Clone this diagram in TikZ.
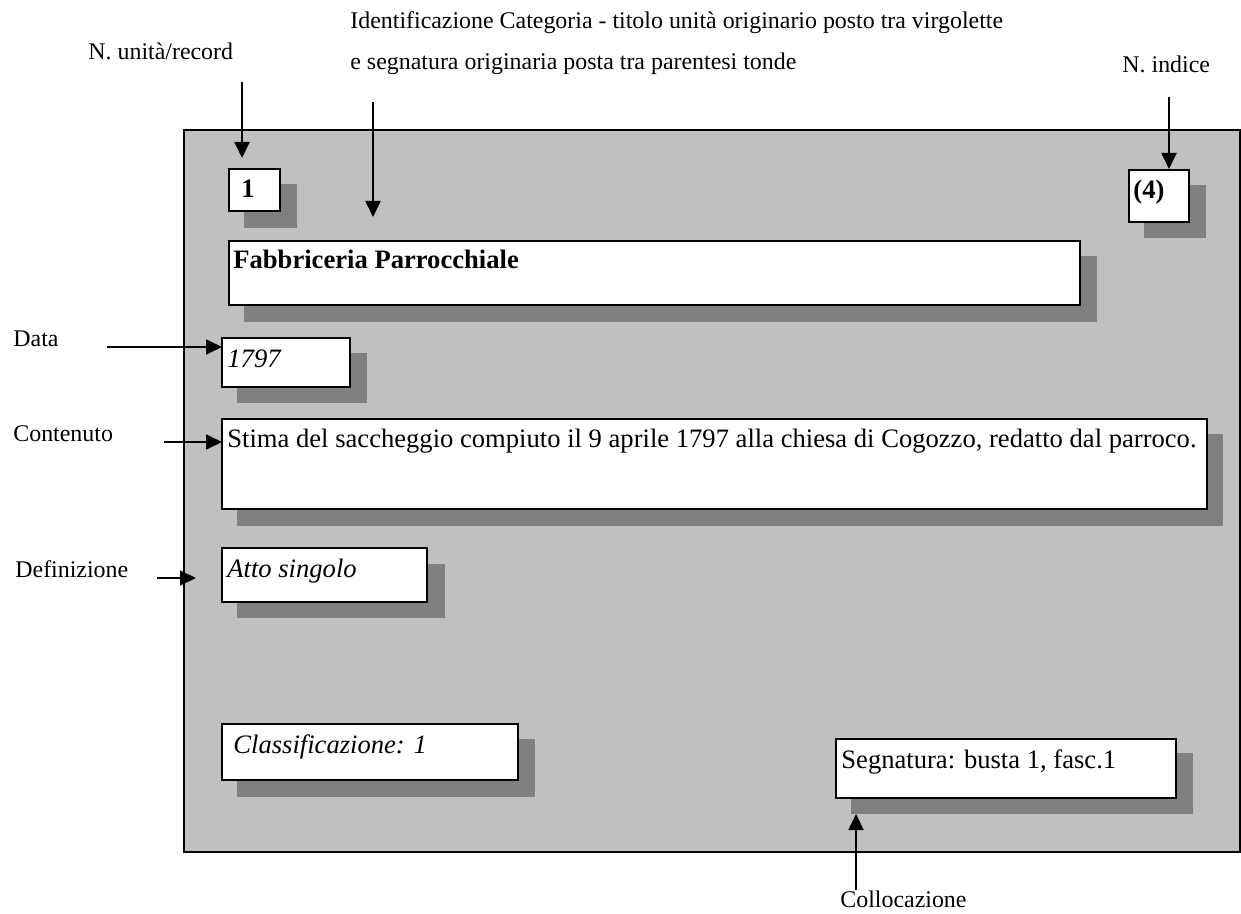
\documentclass[tikz,border=0pt]{standalone}
\usepackage{fontspec}
\setmainfont{Liberation Serif}
\usetikzlibrary{arrows.meta,fit}
\definecolor{panelgray}{HTML}{C0C0C0}
\definecolor{shadowgray}{HTML}{808080}
\begin{document}
\begin{tikzpicture}[x=0.5pt,y=-0.5pt,
  panel/.style={draw=black,line width=1pt,fill=panelgray,inner sep=0pt},
  shadowbox/.style={draw=none,fill=shadowgray,inner sep=0pt},
  whitebox/.style={draw=black,line width=1pt,fill=white,inner sep=0pt},
  lbl/.style={anchor=base west,inner sep=0pt,font=\fontsize{11.95}{14}\selectfont},
  btxt/.style={anchor=base west,inner sep=0pt,font=\fontsize{13.3}{15}\selectfont},
  arr/.style={-{Triangle[length=8pt,width=7.5pt]},line width=0.9pt}
]
\useasboundingbox (0,0) rectangle (1241,914);

% panel
\node[panel,fit={(184,130) (1240,852)}] (panel) {};

% shadows
\node[shadowbox,fit={(244,184) (297,228)}] (s1) {};
\node[shadowbox,fit={(1144,185) (1206,238)}] (s4) {};
\node[shadowbox,fit={(244,256) (1097,322)}] (sfab) {};
\node[shadowbox,fit={(237,353) (367,403)}] (sdate) {};
\node[shadowbox,fit={(237,434) (1223,526)}] (sstima) {};
\node[shadowbox,fit={(237,564) (445,618)}] (satto) {};
\node[shadowbox,fit={(237,739) (535,797)}] (sclass) {};
\node[shadowbox,fit={(851,753) (1193,814)}] (ssegn) {};

% boxes
\node[whitebox,fit={(229,169) (280,211)}] (b1) {};
\node[whitebox,fit={(1129,170) (1189,222)}] (b4) {};
\node[whitebox,fit={(229,241) (1080,305)}] (bfab) {};
\node[whitebox,fit={(222,338) (350,387)}] (bdate) {};
\node[whitebox,fit={(222,419) (1207,509)}] (bstima) {};
\node[whitebox,fit={(222,548) (427,602)}] (batto) {};
\node[whitebox,fit={(222,724) (518,780)}] (bclass) {};
\node[whitebox,fit={(836,739) (1176,798)}] (bsegn) {};

% box texts
\node[btxt] (t1) at (241,198) {\bfseries 1};
\node[btxt] (t4) at (1133,199) {\bfseries (4)};
\node[btxt] (tfab) at (233,269) {\bfseries Fabbriceria Parrocchiale};
\node[btxt] (tdate) at (227,367) {\itshape 1797};
\node[btxt] (tstima) at (227,447) {Stima del saccheggio compiuto il 9 aprile 1797 alla chiesa di Cogozzo, redatto dal parroco.};
\node[btxt] (tatto) at (227,577) {\itshape Atto singolo};
\node[btxt] (tclass) at (233,753) {\itshape Classificazione: 1};
\node[btxt] (tsegn) at (841,768) {Segnatura: busta 1, fasc.1};

% labels
\node[lbl] (lunit) at (88,60) {N. unità/record};
\node[lbl] (lident1) at (350,29) {Identificazione Categoria - titolo unità originario posto tra virgolette};
\node[lbl] (lident2) at (350,70) {e segnatura originaria posta tra parentesi tonde};
\node[lbl] (lindice) at (1122,73) {N. indice};
\node[lbl] (ldata) at (13,347) {Data};
\node[lbl] (lcont) at (13,441) {Contenuto};
\node[lbl] (ldef) at (15,577) {Definizione};
\node[lbl] (lcoll) at (840,907) {Collocazione};

% arrow endpoints
\coordinate (unitS) at (242,82);   \coordinate (unitE) at (242,158);
\coordinate (identS) at (373,102); \coordinate (identE) at (373,217);
\coordinate (indS) at (1169,97);   \coordinate (indE) at (1169,169);
\coordinate (dataS) at (107,347);  \coordinate (dataE) at (222,347);
\coordinate (contS) at (164,442);  \coordinate (contE) at (222,442);
\coordinate (defS) at (157,578);   \coordinate (defE) at (196,578);
\coordinate (collS) at (856,890);  \coordinate (collE) at (856,814);

% arrows
\draw[arr] (unitS) -- (unitE);
\draw[arr] (identS) -- (identE);
\draw[arr] (indS) -- (indE);
\draw[arr] (dataS) -- (dataE);
\draw[arr] (contS) -- (contE);
\draw[arr] (defS) -- (defE);
\draw[arr] (collS) -- (collE);
\end{tikzpicture}
\end{document}
